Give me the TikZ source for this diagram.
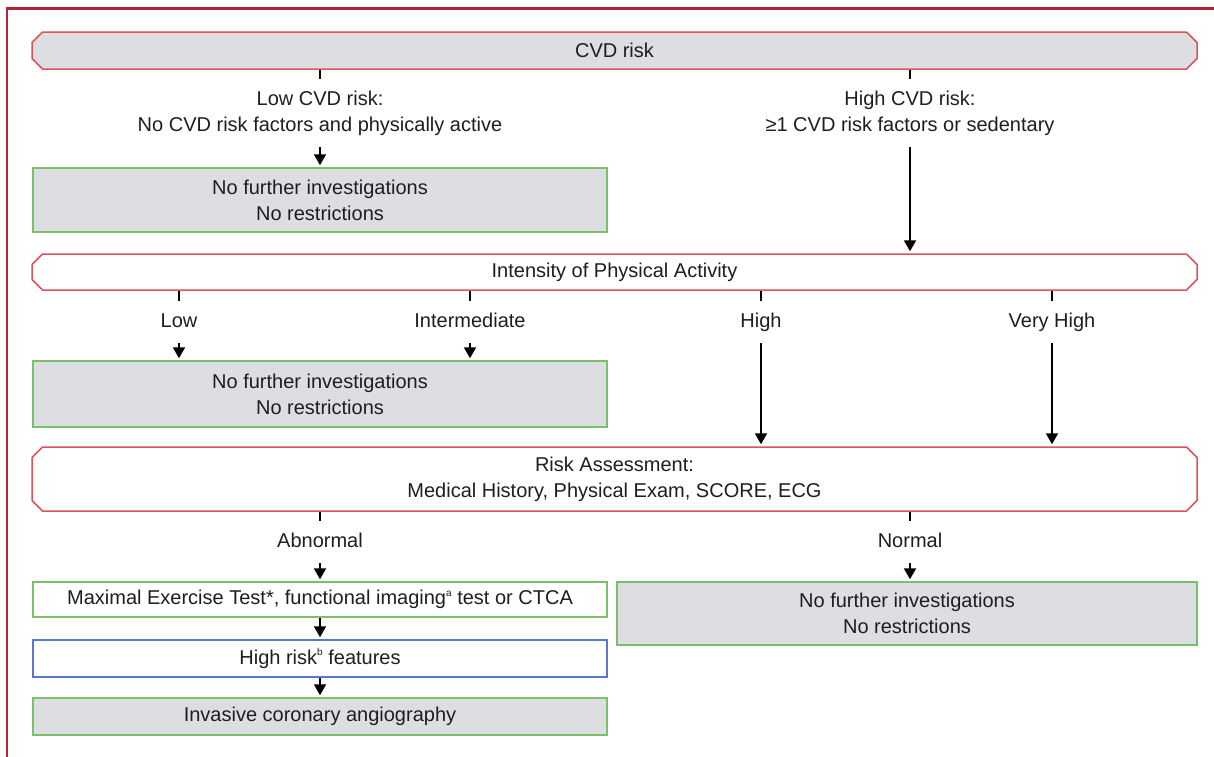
\documentclass[tikz,border=0pt]{standalone}
\usepackage{fontspec}
\setmainfont{Liberation Sans}
\usetikzlibrary{shapes.misc,arrows.meta}
\definecolor{framered}{RGB}{176,38,52}
\definecolor{boxred}{RGB}{224,82,90}
\definecolor{boxgreen}{RGB}{122,192,104}
\definecolor{boxblue}{RGB}{84,122,200}
\definecolor{boxgray}{RGB}{221,222,226}
\definecolor{txt}{RGB}{30,30,30}
\newcommand{\fnmark}[1]{\raisebox{8.5pt}{\fontsize{10pt}{10pt}\selectfont #1}}
\tikzset{
	phase/.style={draw=boxred,line width=1.5pt,chamfered rectangle,chamfered rectangle xsep=7pt,minimum width=1165pt,inner sep=0pt,align=center},
	result/.style={draw=boxgreen,line width=1.5pt,minimum width=574pt,inner sep=0pt,align=center},
	lbl/.style={align=center,inner xsep=0pt,inner ysep=11pt},
	choice/.style={lbl,text height=15pt,text depth=5pt},
	stub/.style={line width=2pt},
	arr/.style={line width=2pt,-{Triangle[width=12pt,length=11pt]},shorten >=2pt}
}
\begin{document}
\begin{tikzpicture}[x=1pt,y=-1pt,every node/.style={font=\fontsize{20pt}{26pt}\selectfont,text=txt}]
	\useasboundingbox (0,0) rectangle (1214,756);
	\draw[framered,line width=2.5pt] (7,760) -- (7,8.5) -- (1220,8.5);
	\node (cvd) [phase,fill=boxgray,minimum height=37pt] at (614.5,50.5) {CVD risk};
	\node (lowcvd) [lbl] at (320,113) {Low CVD risk:\\No CVD risk factors and physically active};
	\node (highcvd) [lbl] at (910,113) {High CVD risk:\\≥1 CVD risk factors or sedentary};
	\node (nofurtherA) [result,fill=boxgray,minimum height=64pt] at (320,200) {No further investigations\\No restrictions};
	\node (intensity) [phase,minimum height=36pt] at (614.5,272) {Intensity of Physical Activity};
	\node (low) [choice] at (179,322) {Low};
	\node (mid) [choice] at (470,322) {Intermediate};
	\node (high) [choice] at (761,322) {High};
	\node (veryhigh) [choice] at (1052,322) {Very High};
	\node (nofurtherB) [result,fill=boxgray,minimum height=66pt] at (320,394) {No further investigations\\No restrictions};
	\node (risk) [phase,minimum height=64pt] at (614.5,479) {Risk Assessment:\\Medical History, Physical Exam, SCORE, ECG};
	\node (abnormal) [choice] at (320,542) {Abnormal};
	\node (normal) [choice] at (910,542) {Normal};
	\node (maximal) [result,minimum height=35pt] at (320,599.5) {Maximal Exercise Test*, functional imaging\fnmark{a} test or CTCA};
	\node (nofurtherC) [result,fill=boxgray,minimum width=580pt,minimum height=63pt] at (907,613.5) {No further investigations\\No restrictions};
	\node (highrisk) [result,draw=boxblue,minimum height=37pt] at (320,658.5) {High risk\fnmark{b} features};
	\node (invasive) [result,fill=boxgray,minimum height=37pt] at (320,716.5) {Invasive coronary angiography};
	\draw[stub] (cvd.south -| lowcvd) -- (lowcvd.north);
	\draw[stub] (cvd.south -| highcvd) -- (highcvd.north);
	\draw[arr] (lowcvd.south) -- (nofurtherA.north);
	\draw[arr] (highcvd.south) -- (highcvd.south |- intensity.north);
	\foreach \n in {low,mid,high,veryhigh}
		\draw[stub] (intensity.south -| \n) -- (\n.north);
	\foreach \n in {low,mid}
		\draw[arr] (\n.south) -- (\n.south |- nofurtherB.north);
	\foreach \n in {high,veryhigh}
		\draw[arr] (\n.south) -- (\n.south |- risk.north);
	\draw[stub] (risk.south -| abnormal) -- (abnormal.north);
	\draw[stub] (risk.south -| normal) -- (normal.north);
	\draw[arr] (abnormal.south) -- (maximal.north);
	\draw[arr] (normal.south) -- (normal.south |- nofurtherC.north);
	\draw[arr] (maximal.south) -- (highrisk.north);
	\draw[arr] (highrisk.south) -- (invasive.north);
\end{tikzpicture}
\end{document}
